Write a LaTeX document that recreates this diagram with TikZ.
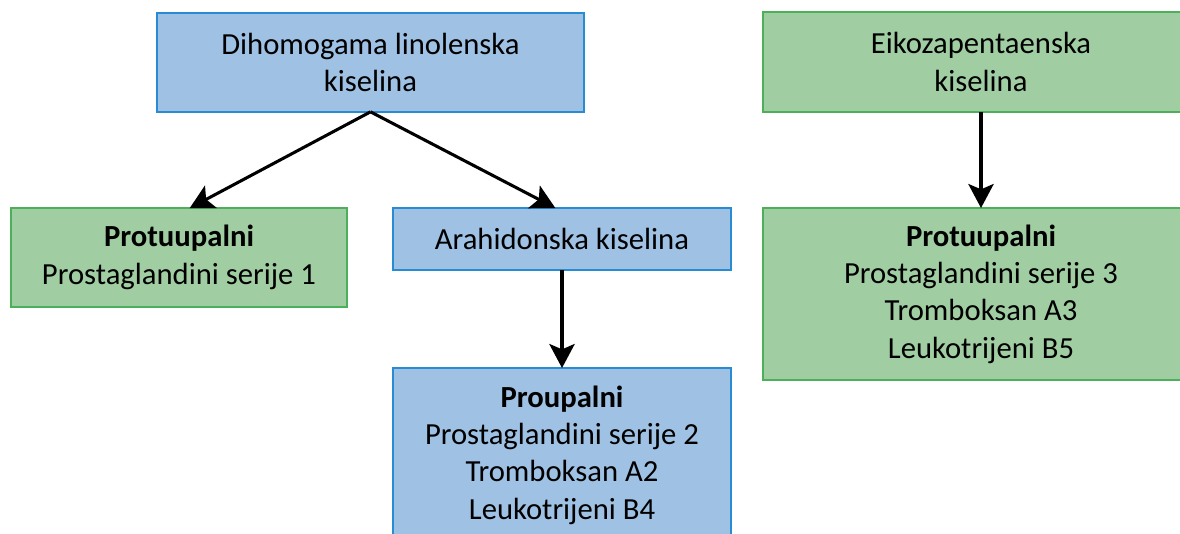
\documentclass[tikz,border=0pt]{standalone}
\usepackage{fontspec}
\setmainfont{Carlito}
\usetikzlibrary{arrows.meta}

\definecolor{bluefill}{RGB}{158,193,228}
\definecolor{blueline}{RGB}{40,140,210}
\definecolor{greenfill}{RGB}{160,206,162}
\definecolor{greenline}{RGB}{76,175,90}

\tikzset{
  box/.style={shape=rectangle,inner sep=0pt,outer sep=0pt,line width=1.3pt,
    align=center,font=\fontsize{23}{28}\selectfont},
  bluebox/.style={box,fill=bluefill,draw=blueline},
  greenbox/.style={box,fill=greenfill,draw=greenline},
  arrow/.style={line width=2.3pt,-{Stealth[length=18pt,width=19pt,inset=4pt]}}
}

\begin{document}
\begin{tikzpicture}[x=0.75pt,y=-0.75pt]
        \useasboundingbox (0,0) rectangle (1180,533);
        \node[bluebox,minimum width=320pt,minimum height=74pt] (dihomo) at (370.5,62.5) {Dihomogama linolenska\\kiselina};
        \node[greenbox,minimum width=252pt,minimum height=74pt] (prot1) at (179,257.5) {\textbf{Protuupalni}\\Prostaglandini serije 1};
        \node[bluebox,minimum width=253.5pt,minimum height=46.5pt] (arah) at (562,239) {Arahidonska kiselina};
        \node[bluebox,minimum width=253.5pt,minimum height=130.5pt] (proup) at (562,455) {\textbf{Proupalni}\\Prostaglandini serije 2\\Tromboksan A2\\Leukotrijeni B4};
        \node[greenbox,minimum width=327pt,minimum height=75pt] (eiko) at (981,62) {Eikozapentaenska\\kiselina};
        \node[greenbox,minimum width=327pt,minimum height=129pt] (prot3) at (981,294) {\textbf{Protuupalni}\\Prostaglandini serije 3\\Tromboksan A3\\Leukotrijeni B5};

        \draw[arrow] (dihomo.south) -- ([xshift=8pt]prot1.north);
        \draw[arrow] (dihomo.south) -- ([xshift=-5pt]arah.north);
        \draw[arrow] (arah.south) -- (proup.north);
        \draw[arrow] (eiko.south) -- (prot3.north);
\end{tikzpicture}
\end{document}
